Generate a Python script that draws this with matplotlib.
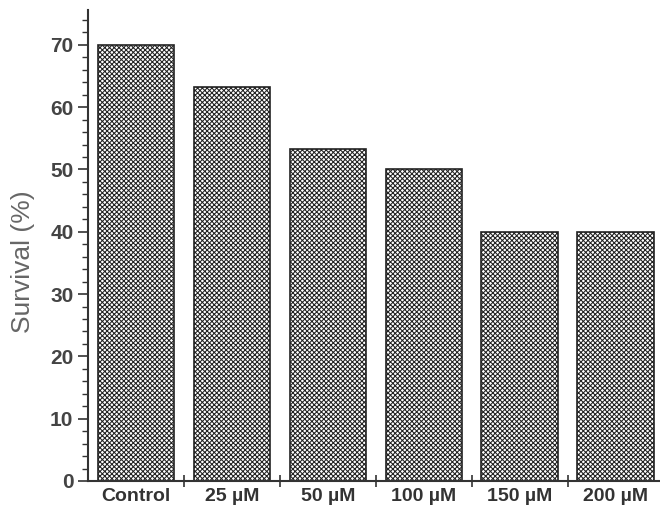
import matplotlib
matplotlib.use("Agg")
import matplotlib.pyplot as plt
from matplotlib.ticker import MultipleLocator

categories = ["Control", "25 µM", "50 µM", "100 µM", "150 µM", "200 µM"]
survival = [70.0, 63.2, 53.3, 50.0, 40.0, 40.0]

plt.rcParams["font.family"] = ["Liberation Sans", "DejaVu Sans"]
plt.rcParams["hatch.linewidth"] = 0.75
plt.rcParams["hatch.color"] = "#333333"

fig = plt.figure(figsize=(6.6, 5.16), dpi=100)
ax = fig.add_axes([88 / 660, 35 / 516, 572 / 660, 471 / 516])

x = list(range(len(categories)))
ax.bar(x, survival, width=0.8, color="white", edgecolor="#222222",
       linewidth=1.2, hatch="xxxxxxx")

ax.set_xlim(-0.5, 5.46)
ax.set_ylim(0, 75.6)

ax.spines["top"].set_visible(False)
ax.spines["right"].set_visible(False)
for s in ("left", "bottom"):
    ax.spines[s].set_color("#333333")
    ax.spines[s].set_linewidth(1.5)

# category labels centred, ticks between bars
ax.set_xticks([i + 0.5 for i in range(len(categories) - 1)])
ax.set_xticklabels([])
ax.set_xticks(x, minor=True)
ax.set_xticklabels(categories, minor=True, fontsize=14, fontweight="bold",
                   color="#333333")
ax.tick_params(axis="x", which="major", direction="inout", length=9,
               width=1.2, color="#333333")
ax.tick_params(axis="x", which="minor", length=0, pad=5)

ax.yaxis.set_major_locator(MultipleLocator(10))
ax.yaxis.set_minor_locator(MultipleLocator(2))
ax.tick_params(axis="y", which="major", direction="out", length=7,
               width=1.2, color="#333333", labelsize=15, labelcolor="#444444")
ax.tick_params(axis="y", which="minor", direction="out", length=4,
               width=1.0, color="#333333")
for lab in ax.get_yticklabels():
    lab.set_fontweight("bold")

ax.set_ylabel("Survival (%)", fontsize=19, color="#666666")
ax.yaxis.set_label_coords(-0.093, 0.465)

fig.savefig("out.png", dpi=100)
